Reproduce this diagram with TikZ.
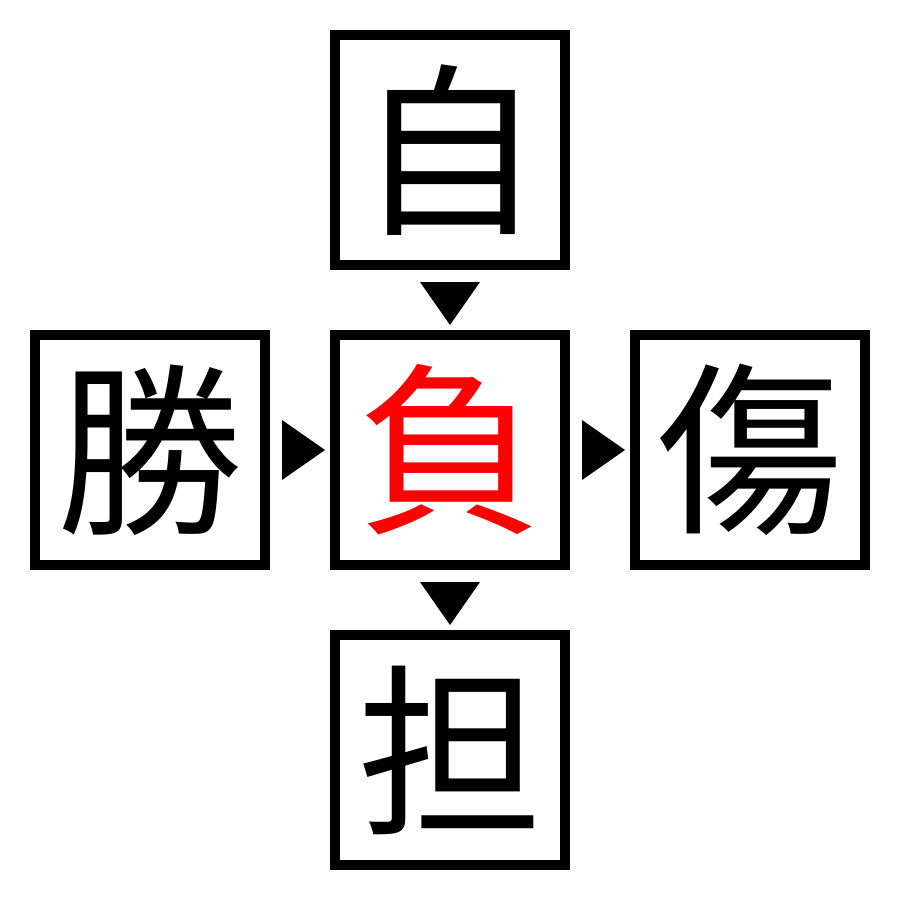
\documentclass[tikz,border=0pt]{standalone}
\usepackage{fontspec}
\newfontfamily\cjk{Noto Sans CJK JP}
\usetikzlibrary{calc}
\begin{document}
\begin{tikzpicture}[x=1pt,y=-1pt,
  charbox/.style={draw=black,line width=10pt,minimum size=230pt,inner sep=0pt,
    font=\cjk\fontsize{185}{185}\selectfont},
  tri/.style={fill=black}]
\useasboundingbox (0,0) rectangle (900,900);
\fill[white] (0,0) rectangle (900,900);
\node[charbox] (top) at (450,150) {自};
\node[charbox] (left) at (150,450) {勝};
\node[charbox,text=red] (mid) at (450,450) {負};
\node[charbox] (right) at (750,450) {傷};
\node[charbox] (bot) at (450,750) {担};
\fill[tri] ($(top.south)+(-30,12)$) -- ($(top.south)+(30,12)$) -- ($(mid.north)+(0,-5)$) -- cycle;
\fill[tri] ($(mid.south)+(-30,12)$) -- ($(mid.south)+(30,12)$) -- ($(bot.north)+(0,-5)$) -- cycle;
\fill[tri] ($(left.east)+(12,-30)$) -- ($(left.east)+(12,30)$) -- ($(mid.west)+(-5,0)$) -- cycle;
\fill[tri] ($(mid.east)+(12,-30)$) -- ($(mid.east)+(12,30)$) -- ($(right.west)+(-5,0)$) -- cycle;
\end{tikzpicture}
\end{document}
